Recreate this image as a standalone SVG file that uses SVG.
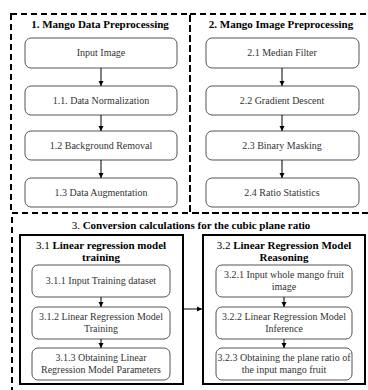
<svg xmlns="http://www.w3.org/2000/svg" width="368" height="390" viewBox="0 0 368 390">
<style>
.dash{fill:none;stroke:#000;stroke-width:2;stroke-dasharray:6 4}
.box{fill:#fff;stroke:#555;stroke-width:1}
.sbox{fill:#fff;stroke:#000;stroke-width:2}
.t{font-family:"Liberation Serif","Times New Roman",serif;font-size:10px;fill:#333;text-anchor:middle}
.h{font-family:"Liberation Serif","Times New Roman",serif;font-size:11px;font-weight:bold;fill:#000;text-anchor:middle}
.c{stroke:#000;stroke-width:1;fill:none}
</style>
<defs>
<marker id="ah" markerWidth="6" markerHeight="6" refX="5" refY="3" orient="auto" markerUnits="userSpaceOnUse">
<path d="M0,0.5 L5,3 L0,5.5 Z" fill="#000"/>
</marker>
</defs>
<rect width="368" height="390" fill="#fff"/>

<g id="group1">
<rect class="dash" x="11" y="14" width="179" height="199"/>
<text class="h" x="100" y="28">1. Mango Data Preprocessing</text>
</g>
<g id="group2">
<rect class="dash" x="190" y="14" width="190" height="199"/>
<text class="h" x="281" y="28">2. Mango Image Preprocessing</text>
</g>
<g id="group3">
<rect class="dash" x="12" y="213" width="370" height="190"/>
<text class="h" x="191" y="229"><tspan font-weight="normal">3. </tspan>Conversion calculations for the cubic plane ratio</text>
</g>

<g id="n_input"><rect class="box" x="25" y="38" width="152" height="30" rx="6"/><text class="t" x="101" y="56">Input Image</text></g>
<g id="n_1_1"><rect class="box" x="25" y="86" width="152" height="29" rx="6"/><text class="t" x="101" y="104">1.1. Data Normalization</text></g>
<g id="n_1_2"><rect class="box" x="25" y="131" width="152" height="29" rx="6"/><text class="t" x="101" y="149">1.2 Background Removal</text></g>
<g id="n_1_3"><rect class="box" x="25" y="178" width="152" height="29" rx="6"/><text class="t" x="101" y="196">1.3 Data Augmentation</text></g>

<g id="n_2_1"><rect class="box" x="206" y="38" width="153" height="30" rx="6"/><text class="t" x="282" y="56">2.1 Median Filter</text></g>
<g id="n_2_2"><rect class="box" x="206" y="86" width="153" height="29" rx="6"/><text class="t" x="282" y="104">2.2 Gradient Descent</text></g>
<g id="n_2_3"><rect class="box" x="206" y="131" width="153" height="29" rx="6"/><text class="t" x="282" y="149">2.3 Binary Masking</text></g>
<g id="n_2_4"><rect class="box" x="206" y="178" width="153" height="29" rx="6"/><text class="t" x="282" y="196">2.4 Ratio Statistics</text></g>

<g id="n_3_1">
<rect class="sbox" x="20" y="235" width="163" height="149"/>
<text class="h" x="101" y="249"><tspan font-weight="normal">3.1 </tspan>Linear regression model</text>
<text class="h" x="101" y="261">training</text>
</g>
<g id="n_3_1_1"><rect class="box" x="32" y="265" width="138" height="32" rx="6"/><text class="t" x="101" y="284">3.1.1 Input Training dataset</text></g>
<g id="n_3_1_2"><rect class="box" x="32" y="307" width="138" height="32" rx="6"/><text class="t" x="101" y="320">3.1.2 Linear Regression Model</text><text class="t" x="101" y="332">Training</text></g>
<g id="n_3_1_3"><rect class="box" x="32" y="348" width="138" height="32" rx="6"/><text class="t" x="101" y="361">3.1.3 Obtaining Linear</text><text class="t" x="101" y="373">Regression Model Parameters</text></g>

<g id="n_3_2">
<rect class="sbox" x="203" y="235" width="162" height="149"/>
<text class="h" x="284" y="249"><tspan font-weight="normal">3.2 </tspan>Linear Regression Model</text>
<text class="h" x="284" y="261">Reasoning</text>
</g>
<g id="n_3_2_1"><rect class="box" x="216" y="265" width="136" height="32" rx="6"/><text class="t" x="284" y="278">3.2.1 Input whole mango fruit</text><text class="t" x="284" y="290">image</text></g>
<g id="n_3_2_2"><rect class="box" x="216" y="307" width="136" height="32" rx="6"/><text class="t" x="284" y="320">3.2.2 Linear Regression Model</text><text class="t" x="284" y="332">Inference</text></g>
<g id="n_3_2_3"><rect class="box" x="216" y="348" width="136" height="32" rx="6"/><text class="t" x="284" y="361">3.2.3 Obtaining the plane ratio of</text><text class="t" x="284" y="373">the input mango fruit</text></g>

<g id="connectors">
<line class="c" x1="101" y1="68" x2="101" y2="86" marker-end="url(#ah)"/>
<line class="c" x1="101" y1="115" x2="101" y2="131" marker-end="url(#ah)"/>
<line class="c" x1="101" y1="160" x2="101" y2="178" marker-end="url(#ah)"/>
<line class="c" x1="282" y1="68" x2="282" y2="86" marker-end="url(#ah)"/>
<line class="c" x1="282" y1="115" x2="282" y2="131" marker-end="url(#ah)"/>
<line class="c" x1="282" y1="160" x2="282" y2="178" marker-end="url(#ah)"/>
<line class="c" x1="101" y1="297" x2="101" y2="307" marker-end="url(#ah)"/>
<line class="c" x1="101" y1="339" x2="101" y2="348" marker-end="url(#ah)"/>
<line class="c" x1="284" y1="297" x2="284" y2="307" marker-end="url(#ah)"/>
<line class="c" x1="284" y1="339" x2="284" y2="348" marker-end="url(#ah)"/>
<line class="c" x1="184" y1="309" x2="202" y2="309" stroke-width="1.5" marker-end="url(#ah)"/>
</g>
</svg>
